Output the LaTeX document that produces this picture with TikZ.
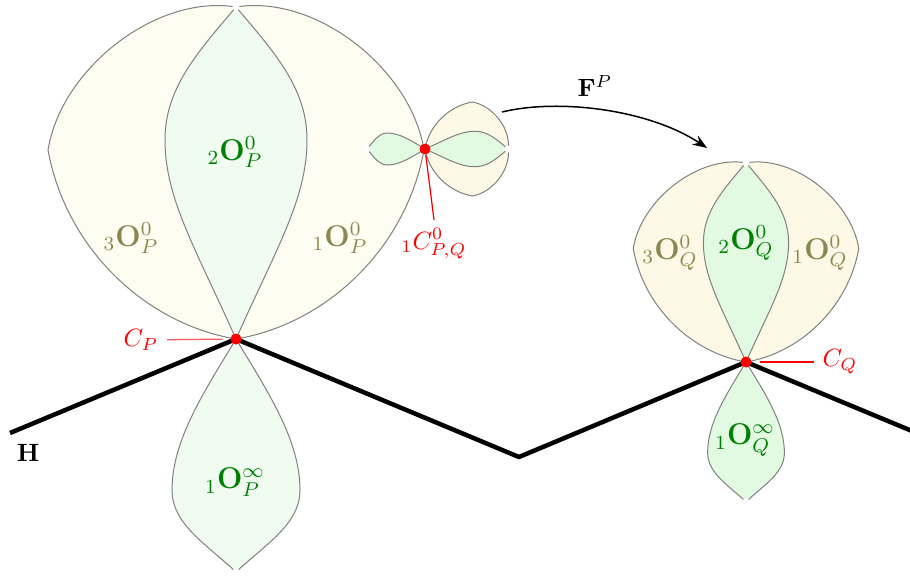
\documentclass[tikz,border=0pt]{standalone}
\usetikzlibrary{arrows.meta}
\definecolor{petalolive}{RGB}{140,135,80}
\definecolor{petalgreen}{RGB}{0,128,0}
\definecolor{paleyellow}{RGB}{254,253,242}
\definecolor{palegreen}{RGB}{240,252,240}
\definecolor{creamyellow}{RGB}{254,249,230}
\definecolor{mintgreen}{RGB}{226,250,226}

\begin{document}
\begin{tikzpicture}[x=0.4pt,y=0.4pt,
  yellowpetal/.style={draw=gray,fill=paleyellow,line width=0.4pt},
  greenpetal/.style={draw=gray,fill=palegreen,line width=0.4pt},
  tipgap/.style={circle,fill=white,inner sep=0pt,minimum size=2.8pt},
  crit/.style={circle,fill=red,inner sep=0pt,minimum size=4.4pt},
  glab/.style={font=\large,text=petalgreen},
  ylab/.style={font=\large,text=petalolive},
  clab/.style={text=red},
  lead/.style={red,line width=0.5pt},
  hline/.style={line width=1.8pt},
  arr/.style={-{Stealth},semithick},
  flower/.pic={
    \draw[yellowpetal] (0,0) .. controls (-90,15) and (-170,90) .. (-188,189)
      .. controls (-175,270) and (-80,345) .. (0,332)
      .. controls (80,345) and (175,270) .. (188,189)
      .. controls (170,90) and (90,15) .. (0,0) -- cycle;
    \draw[greenpetal] (0,0) .. controls (-40,90) and (-71,140) .. (-71,199)
      .. controls (-71,250) and (-40,285) .. (0,332)
      .. controls (40,285) and (71,250) .. (71,199)
      .. controls (71,140) and (40,90) .. (0,0) -- cycle;
    \draw[greenpetal] (0,0) .. controls (-30,-50) and (-64,-100) .. (-64,-151)
      .. controls (-64,-185) and (-30,-205) .. (0,-233)
      .. controls (30,-205) and (64,-185) .. (64,-151)
      .. controls (64,-100) and (30,-50) .. (0,0) -- cycle;
    \node[tipgap] (-tip) at (0,332) {};
    \node[tipgap] (-end) at (0,-233) {};
  }
]
\useasboundingbox (0,0) rectangle (910,-579);

\coordinate (P) at (236,-339);
\coordinate (Q) at (746,-362);
\coordinate (R) at (425,-149);

\pic (fp) at (P) {flower};
\pic[scale=0.25,rotate=-90,
     yellowpetal/.append style={fill=creamyellow},
     greenpetal/.append style={fill=mintgreen}] (fr) at (R) {flower};
\pic[scale=0.6,
     yellowpetal/.append style={fill=creamyellow},
     greenpetal/.append style={fill=mintgreen}] (fq) at (Q) {flower};

\coordinate (h0) at (10,-433);
\coordinate (h1) at (519,-457);
\coordinate (h2) at (930,-438.5);
\draw[hline] (h0) -- (P) -- (h1) -- (Q) -- (h2);
\node (hlab) at (28,-453) {$\mathbf{H}$};

\node[glab] (op2) at (235,-152) {${}_2\mathbf{O}^0_P$};
\node[ylab] (op3) at (131,-238) {${}_3\mathbf{O}^0_P$};
\node[ylab] (op1) at (340,-238) {${}_1\mathbf{O}^0_P$};
\node[glab] (opinf) at (235,-482) {${}_1\mathbf{O}^\infty_P$};

\node[ylab] (oq3) at (670,-253) {${}_3\mathbf{O}^0_Q$};
\node[glab] (oq2) at (746,-243) {${}_2\mathbf{O}^0_Q$};
\node[ylab] (oq1) at (820,-253) {${}_1\mathbf{O}^0_Q$};
\node[glab] (oqinf) at (745,-440) {${}_1\mathbf{O}^\infty_Q$};

\node[clab] (cplab) at (141,-340) {$C_P$};
\node[clab] (cqlab) at (840,-362) {$C_Q$};
\node[clab] (crlab) at (434,-244) {${}_1C^0_{P,Q}$};
\draw[lead,red!65,shorten >=5.6pt] (cplab) -- (P);
\draw[lead,shorten <=5.6pt] (Q) -- (cqlab);
\draw[lead,shorten <=2.4pt] (R) -- (crlab.north);

\coordinate (fpa) at (502,-112);
\coordinate (fpb) at (707,-148);
\draw[arr] (fpa) .. controls (560,-98) and (650,-110) .. (fpb);
\node (fplab) at (595,-86) {$\mathbf{F}^P$};

\node[crit] (cp) at (P) {};
\node[crit] (cq) at (Q) {};
\node[crit] (cr) at (R) {};
\end{tikzpicture}
\end{document}
